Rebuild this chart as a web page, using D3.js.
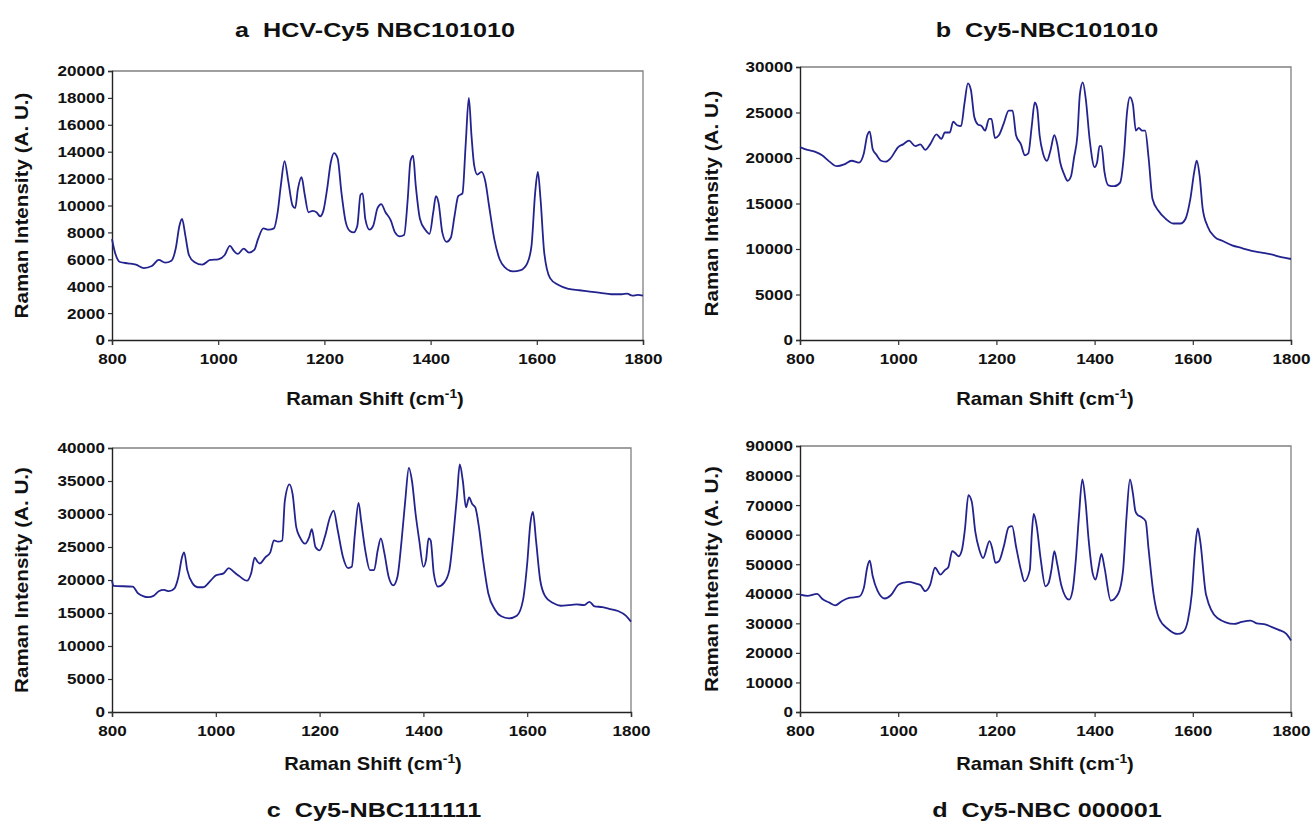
<!DOCTYPE html>
<html><head><meta charset="utf-8">
<script src="https://cdn.jsdelivr.net/npm/d3@7"></script>
<style>
body{margin:0;background:#fff;}
text{font-family:"Liberation Sans",Arial,sans-serif;font-weight:bold;fill:#111;}
.ttl{white-space:pre;}
</style></head><body>
<svg id="c" width="1315" height="829"></svg>
<script>
const xTicks = [800,1000,1200,1400,1600,1800];
const ticksA = [0,2000,4000,6000,8000,10000,12000,14000,16000,18000,20000];
const ticksB = [0,5000,10000,15000,20000,25000,30000];
const ticksC = [0,5000,10000,15000,20000,25000,30000,35000,40000];
const ticksD = [0,10000,20000,30000,40000,50000,60000,70000,80000,90000];

const titles = ["a  HCV-Cy5 NBC101010","b  Cy5-NBC101010","c  Cy5-NBC111111","d  Cy5-NBC 000001"];

const shiftA = [800,805,815,830,845,860,875,888,900,912,920,927,932,938,945,955,970,985,1000,1012,1022,1030,1037,1048,1058,1068,1075,1085,1095,1105,1112,1118,1125,1132,1140,1145,1150,1157,1163,1170,1178,1185,1192,1198,1205,1212,1218,1225,1232,1240,1248,1255,1262,1268,1272,1277,1285,1292,1300,1307,1315,1325,1333,1342,1350,1357,1362,1367,1372,1380,1390,1398,1405,1410,1415,1422,1430,1438,1445,1452,1460,1466,1472,1477,1482,1488,1496,1503,1510,1520,1530,1540,1555,1570,1582,1590,1597,1602,1607,1614,1625,1640,1660,1680,1700,1720,1740,1760,1770,1780,1790,1800];
const intensityA = [7500,6600,5800,5700,5600,5350,5500,5950,5750,5900,6800,8500,9000,7800,6300,5800,5600,5950,6000,6300,7000,6600,6400,6800,6500,6700,7500,8300,8200,8300,9500,11500,13300,11800,10000,9800,11200,12100,10800,9500,9600,9500,9200,9600,11200,13200,13900,13500,11000,8800,8100,8000,8500,10800,10900,9000,8200,8500,9800,10100,9500,8900,8000,7700,7800,10500,13300,13700,11500,9000,8200,7900,9500,10700,10200,8000,7300,7600,9200,10700,10900,14500,18000,15200,13000,12300,12500,11800,10000,7500,6000,5400,5100,5200,5700,7000,11000,12500,10500,6500,4600,4100,3800,3700,3600,3500,3400,3400,3450,3300,3350,3300];

const shiftB = [800,815,830,845,860,875,890,905,920,930,937,942,948,955,965,975,985,1000,1010,1022,1035,1045,1055,1065,1078,1088,1095,1105,1112,1120,1128,1135,1142,1148,1155,1162,1170,1177,1185,1190,1197,1205,1215,1225,1233,1240,1250,1258,1265,1272,1278,1283,1288,1295,1303,1310,1318,1324,1330,1338,1345,1352,1358,1365,1370,1376,1382,1390,1400,1405,1410,1414,1420,1428,1440,1452,1460,1466,1472,1478,1484,1490,1497,1503,1510,1518,1530,1545,1560,1575,1585,1595,1603,1608,1614,1620,1630,1645,1660,1680,1700,1720,1740,1760,1780,1800];
const intensityB = [21200,20900,20700,20300,19600,19100,19300,19700,19500,20500,22500,22900,21000,20400,19700,19600,20000,21200,21500,21900,21300,21500,20900,21500,22600,22100,22800,22800,24000,23600,23500,26000,28200,27500,24500,23700,23500,23000,24300,24300,22200,22500,23800,25200,25200,22500,21500,20300,20500,23500,26100,25500,22500,20500,19700,20800,22500,21500,19500,18200,17500,18000,20000,22500,27000,28300,26500,22000,19000,19500,21300,21300,18500,17000,16900,17300,20500,25000,26700,25900,23000,23300,23000,23000,20000,15500,14200,13300,12800,12800,13300,15500,18500,19700,18000,14500,12500,11300,10900,10400,10100,9800,9600,9400,9100,8900];

const shiftC = [800,803,840,850,870,880,890,900,910,920,928,935,939,945,955,965,975,990,1000,1015,1025,1035,1045,1060,1068,1075,1080,1085,1095,1105,1112,1120,1128,1133,1142,1148,1155,1162,1172,1180,1185,1192,1200,1210,1220,1227,1235,1245,1255,1262,1268,1275,1280,1288,1297,1305,1312,1318,1325,1333,1342,1350,1358,1365,1372,1378,1385,1392,1400,1405,1410,1414,1420,1428,1440,1450,1458,1465,1470,1476,1482,1488,1494,1500,1507,1515,1525,1538,1550,1565,1580,1592,1600,1606,1611,1617,1625,1635,1650,1665,1680,1695,1710,1720,1730,1745,1760,1775,1790,1800];
const intensityC = [19900,19100,19000,18000,17400,17600,18300,18500,18300,18700,20500,23500,24200,21500,19500,18900,18900,19900,20700,21000,21800,21200,20600,19900,21000,23400,22800,22500,23400,24200,26000,25800,26000,32000,34500,33000,28000,26500,25500,26500,27700,25000,24500,26500,29500,30500,27500,23500,21800,22000,27000,31700,29000,24500,21500,21500,24500,26300,24000,20500,19200,20500,26000,32000,37000,35000,30000,26000,22000,23000,26300,26000,21000,19000,19600,21500,27000,33000,37500,35000,31000,32500,31500,31000,28000,23000,18000,15500,14500,14200,14600,17000,22500,28500,30300,26000,20000,17500,16500,16100,16200,16300,16200,16700,16000,15900,15600,15300,14600,13700];

const shiftD = [800,815,835,845,860,872,885,900,920,930,937,942,948,958,973,985,1000,1012,1022,1035,1045,1055,1065,1075,1086,1095,1102,1110,1116,1123,1130,1136,1143,1150,1157,1165,1173,1186,1192,1198,1205,1215,1225,1232,1240,1250,1257,1268,1272,1276,1282,1290,1300,1306,1312,1318,1324,1332,1348,1355,1362,1368,1375,1381,1388,1396,1402,1408,1414,1420,1433,1448,1458,1465,1472,1478,1483,1487,1495,1504,1510,1520,1531,1550,1569,1580,1590,1598,1605,1610,1615,1627,1650,1684,1700,1718,1730,1749,1760,1775,1790,1800];
const intensityD = [39700,39300,40000,38300,37000,36100,37500,38600,39000,42000,49000,51200,46000,41000,38400,39500,43000,43800,44000,43500,43000,40900,43000,48800,46500,48000,49000,54400,53800,52700,55000,62000,73400,71000,61000,55000,52100,57800,55000,50500,51000,56000,62500,62900,56000,48000,44200,48000,60000,67000,63000,52000,42500,43500,48000,54400,50000,43000,38000,41000,52000,66000,78700,72000,58000,47000,44800,49000,53500,49000,37700,40000,48000,66000,78700,74000,68000,66800,66000,64600,55000,40000,31800,28000,26400,27000,31000,40000,56000,62100,58000,39700,31800,29800,30500,30900,30000,29600,28800,27800,26500,24200];

const svg = d3.select("#c");
const FONT = "'Liberation Sans',Arial,sans-serif";

const panels = [
  {x:shiftA,y:intensityA,ticks:ticksA,max:20000,L:112,R:643,T:71,B:340,yt:22,title:titles[0],tx:375,ty:37,xt:375,xty:405},
  {x:shiftB,y:intensityB,ticks:ticksB,max:30000,L:800,R:1291,T:67,B:340,yt:712,title:titles[1],tx:1047,ty:37,xt:1045,xty:405},
  {x:shiftC,y:intensityC,ticks:ticksC,max:40000,L:112,R:631,T:448,B:712,yt:22,title:titles[2],tx:374,ty:817,xt:373,xty:770},
  {x:shiftD,y:intensityD,ticks:ticksD,max:90000,L:800,R:1291,T:446,B:712,yt:712,title:titles[3],tx:1047,ty:817,xt:1045,xty:770}
];

panels.forEach(p=>{
  const xs = d3.scaleLinear().domain([800,1800]).range([p.L,p.R]);
  const ys = d3.scaleLinear().domain([0,p.max]).range([p.B,p.T]);
  const g = svg.append("g");
  g.append("path").attr("d",`M${p.L},${p.T}H${p.R}V${p.B}`).attr("fill","none").attr("stroke","#808080").attr("stroke-width",1.3);
  const ya = g.append("g").attr("transform",`translate(${p.L},0)`)
    .call(d3.axisLeft(ys).tickValues(p.ticks).tickSize(4).tickPadding(3).tickFormat(d3.format("d")));
  const xa = g.append("g").attr("transform",`translate(0,${p.B})`)
    .call(d3.axisBottom(xs).tickValues(xTicks).tickSize(5).tickPadding(8).tickFormat(d3.format("d")));
  [ya,xa].forEach(a=>{
    a.select(".domain").attr("stroke","#222").attr("stroke-width",1.4);
    a.selectAll(".tick line").attr("stroke","#333").attr("stroke-width",1.2);
    a.selectAll(".tick text").style("font-size","15.5px").style("font-family",FONT).style("font-weight","bold").attr("fill","#111")
      .each(function(){const t=d3.select(this);const x=+t.attr("x")||0;t.attr("x",x/1.1).attr("transform","scale(1.1,1)");});
  });
  const line = d3.line().x((d,i)=>xs(p.x[i])).y(d=>ys(d)).curve(d3.curveMonotoneX);
  g.append("path").datum(p.y).attr("d",line).attr("fill","none").attr("stroke","#23238f").attr("stroke-width",1.8).attr("stroke-linejoin","round");
  g.append("text").attr("class","ttl").attr("transform",`translate(${p.tx},${p.ty}) scale(1.2,1)`).attr("text-anchor","middle").style("font-size","21px").text(p.title);
  const xt = g.append("text").attr("transform",`translate(${p.xt},${p.xty}) scale(1.15,1)`).attr("text-anchor","middle").style("font-size","17.5px");
  xt.append("tspan").text("Raman Shift (cm");
  xt.append("tspan").attr("dy",-7).style("font-size","12px").text("-1");
  xt.append("tspan").attr("dy",7).text(")");
  g.append("text").attr("transform",`translate(${p.yt},${(p.T+p.B)/2}) rotate(-90) scale(1.18,1)`).attr("text-anchor","middle").attr("dy","0.35em").style("font-size","17.5px").text("Raman Intensity (A. U.)");
});
</script></body></html>
